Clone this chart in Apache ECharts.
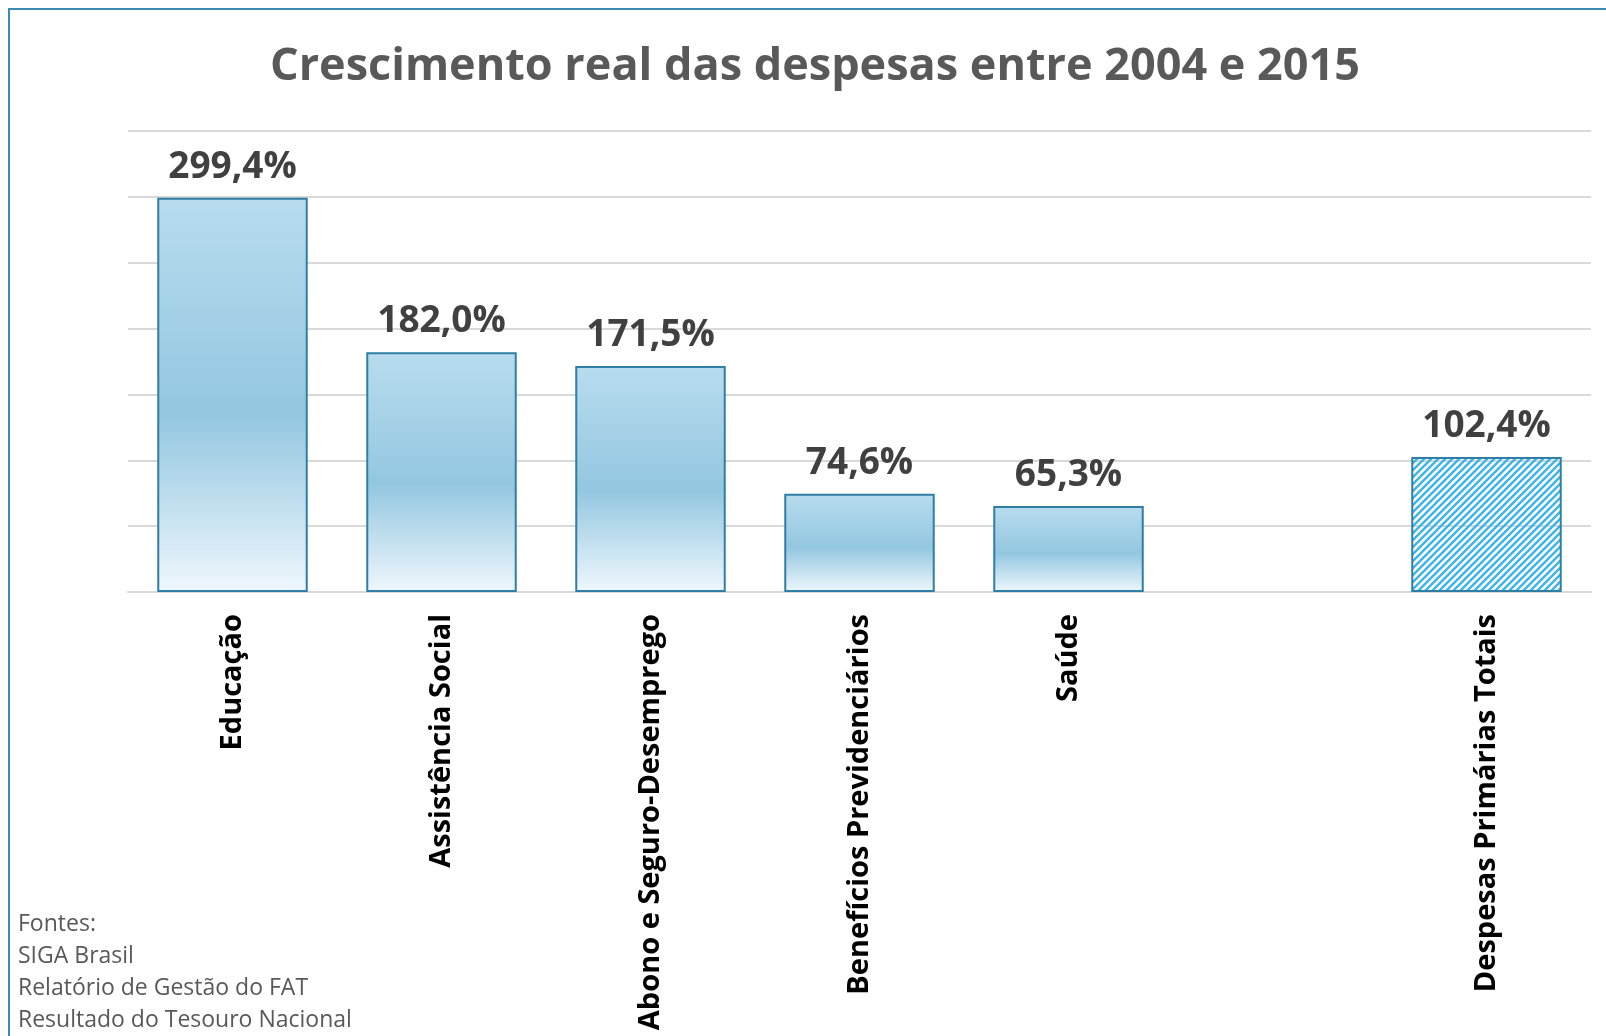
<!DOCTYPE html>
<html>
<head>
<meta charset="utf-8">
<script src="https://cdn.jsdelivr.net/npm/echarts@6/dist/echarts.min.js"></script>
<style>
html,body{margin:0;padding:0;background:#fff;}
#chart{width:1606px;height:1036px;}
</style>
</head>
<body>
<div id="chart"></div>
<script>
const titleText = 'Crescimento real das despesas entre 2004 e 2015';
const categories = ['Educação', 'Assistência Social', 'Abono e Seguro-Desemprego', 'Benefícios Previdenciários', 'Saúde', '', 'Despesas Primárias Totais'];
const values = [299.4, 182.0, 171.5, 74.6, 65.3, null, 102.4];
const hatched = [false, false, false, false, false, false, true];
const sourceLines = ['Fontes:', 'SIGA Brasil', 'Relatório de Gestão do FAT', 'Resultado do Tesouro Nacional'];

const chart = echarts.init(document.getElementById('chart'));

// hatch pattern
const pc = document.createElement('canvas');
pc.width = 7; pc.height = 7;
const ctx = pc.getContext('2d');
ctx.strokeStyle = '#3db4ea';
ctx.lineWidth = 2.4;
ctx.beginPath();
ctx.moveTo(0, 7); ctx.lineTo(7, 0);
ctx.moveTo(-1, 1); ctx.lineTo(1, -1);
ctx.moveTo(6, 8); ctx.lineTo(8, 6);
ctx.stroke();

const gradient = new echarts.graphic.LinearGradient(0, 0, 0, 1, [
  {offset: 0, color: '#b8dcee'},
  {offset: 0.55, color: '#93c7e0'},
  {offset: 1, color: '#eff7fd'}
]);

const data = values.map((v, i) => ({
  value: v,
  itemStyle: {
    color: hatched[i] ? {image: pc, repeat: 'repeat'} : gradient,
    borderColor: '#2f7ea5',
    borderWidth: 2
  }
}));

const font = '"Open Sans", sans-serif';

chart.setOption({
  animation: false,
  grid: {left: 128, right: 15, top: 131, bottom: 444, containLabel: false},
  xAxis: {
    type: 'category',
    data: categories,
    axisTick: {show: false},
    axisLine: {lineStyle: {color: '#d9d9d9', width: 2}},
    axisLabel: {
      rotate: 90,
      interval: 0,
      margin: 22,
      color: '#000',
      fontFamily: font,
      fontWeight: 'bold',
      fontSize: 29
    }
  },
  yAxis: {
    type: 'value',
    min: 0,
    max: 350,
    interval: 50,
    axisLabel: {show: false},
    axisLine: {show: false},
    axisTick: {show: false},
    splitLine: {lineStyle: {color: '#d9d9d9', width: 2}}
  },
  series: [{
    type: 'bar',
    barWidth: '72%',
    data: data,
    label: {
      show: true,
      position: 'top',
      distance: 12,
      color: '#404040',
      fontFamily: font,
      fontWeight: 'bold',
      fontSize: 37,
      formatter: p => p.value == null ? '' : p.value.toFixed(1).replace('.', ',') + '%'
    }
  }],
  graphic: [
    {
      type: 'rect',
      shape: {x: 9, y: 9, width: 1700, height: 1200},
      style: {fill: 'none', stroke: '#3a8ab2', lineWidth: 2},
      silent: true
    },
    {
      type: 'text',
      x: 815, y: 67,
      style: {
        text: titleText,
        fill: '#595959',
        font: 'bold 45px ' + font,
        textAlign: 'center',
        textVerticalAlign: 'middle'
      }
    },
    {
      type: 'text',
      x: 18, y: 908,
      style: {
        text: sourceLines.join('\n'),
        fill: '#595959',
        font: '23px ' + font,
        lineHeight: 32,
        textAlign: 'left',
        textVerticalAlign: 'top'
      }
    }
  ]
});
</script>
</body>
</html>
